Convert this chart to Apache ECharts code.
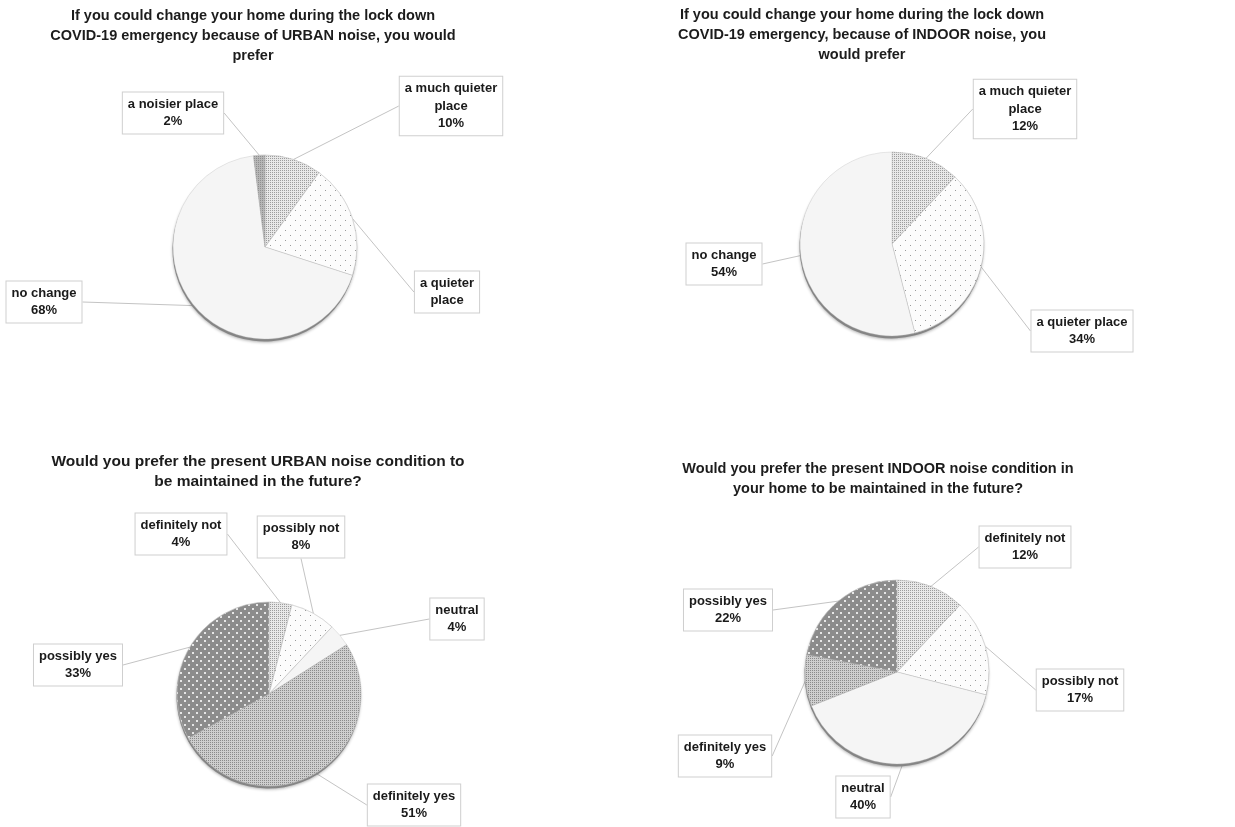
<!DOCTYPE html>
<html>
<head>
<meta charset="utf-8">
<title>Noise survey</title>
<script src="https://cdn.jsdelivr.net/npm/echarts@6/dist/echarts.min.js"></script>
<style>
  html, body { margin: 0; padding: 0; background: #ffffff; }
  #chart { width: 1235px; height: 827px; }
</style>
</head>
<body>
<div id="chart"></div>
<script>
// Survey answers (percent of respondents)
const urbanChangeNames = ['a much quieter place', 'a quieter place', 'no change', 'a noisier place'];
const urbanChangeLabels = ['a much quieter\nplace', 'a quieter\nplace', 'no change', 'a noisier place'];
const urbanChangeValues = [10, 20, 68, 2];

const indoorChangeNames = ['a much quieter place', 'a quieter place', 'no change'];
const indoorChangeLabels = ['a much quieter\nplace', 'a quieter place', 'no change'];
const indoorChangeValues = [12, 34, 54];

const keepNames = ['definitely not', 'possibly not', 'neutral', 'definitely yes', 'possibly yes'];
const urbanKeepValues = [4, 8, 4, 51, 33];
const indoorKeepValues = [12, 17, 40, 9, 22];

const panelTitles = [
  'If you could change your home during the lock down\nCOVID-19 emergency because of URBAN noise, you would\nprefer',
  'If you could change your home during the lock down\nCOVID-19 emergency, because of INDOOR noise, you\nwould prefer',
  'Would you prefer the present URBAN noise condition to\nbe maintained in the future?',
  'Would you prefer the present INDOOR noise condition in\nyour home to be maintained in the future?'
];

// ---- fill styles (grey tones with dot patterns) ----
const FONT = '"Liberation Sans", Arial, Helvetica, sans-serif';

const fills = {
  denseLight: {
    color: '#e8e8e8',
    decal: { symbol: 'rect', symbolSize: 1, color: '#9c9c9c', dashArrayX: [[1, 1]], dashArrayY: [1, 1], rotation: 0 }
  },
  sparse: {
    color: '#fcfcfc',
    decal: { symbol: 'rect', symbolSize: 1, color: '#9a9a9a', dashArrayX: [[1, 9], [0, 5, 1, 4]], dashArrayY: [1, 4], rotation: 0 }
  },
  plain: { color: '#f5f5f5' },
  denseMid: {
    color: '#cecece',
    decal: { symbol: 'rect', symbolSize: 1, color: '#8a8a8a', dashArrayX: [[1, 1]], dashArrayY: [1, 1], rotation: 0 }
  },
  darkDots: {
    color: '#8c8c8c',
    decal: { symbol: 'rect', symbolSize: 1, color: '#e6e6e6', dashArrayX: [[2, 6], [0, 4, 2, 2]], dashArrayY: [2, 2], rotation: 0 }
  },
  grey: {
    color: '#b6b6b6',
    decal: { symbol: 'rect', symbolSize: 1, color: '#8e8e8e', dashArrayX: [[1, 1]], dashArrayY: [1, 1], rotation: 0 }
  }
};

const changeFills = ['denseLight', 'sparse', 'plain', 'grey'];
const keepFills = ['denseLight', 'sparse', 'plain', 'denseMid', 'darkDots'];

// ---- panel layout: pie centre, radius, title anchor, label box centres ----
const panels = [
  {
    names: urbanChangeNames, labels: urbanChangeLabels, values: urbanChangeValues, fills: changeFills,
    hidePct: [1],
    center: [265, 247], radius: 92,
    title: [253, 6], titleSize: 14.5,
    labelPos: [[451, 106], [447, 292], [44, 302], [173, 113]]
  },
  {
    names: indoorChangeNames, labels: indoorChangeLabels, values: indoorChangeValues, fills: changeFills,
    hidePct: [],
    center: [892, 244], radius: 92,
    title: [862, 5], titleSize: 14.5,
    labelPos: [[1025, 109], [1082, 331], [724, 264]]
  },
  {
    names: keepNames, labels: keepNames, values: urbanKeepValues, fills: keepFills,
    hidePct: [],
    center: [269, 694], radius: 92,
    title: [258, 452], titleSize: 15.5,
    labelPos: [[181, 534], [301, 537], [457, 619], [414, 805], [78, 665]]
  },
  {
    names: keepNames, labels: keepNames, values: indoorKeepValues, fills: keepFills,
    hidePct: [],
    center: [897, 672], radius: 92,
    title: [878, 459], titleSize: 14.5,
    labelPos: [[1025, 547], [1080, 690], [863, 797], [725, 756], [728, 610]]
  }
];

const titleOpts = panels.map((p, i) => ({
  text: panelTitles[i],
  left: p.title[0],
  top: p.title[1],
  textAlign: 'center',
  padding: 0,
  textStyle: { fontFamily: FONT, fontSize: p.titleSize, fontWeight: 'bold', color: '#1c1c1c', lineHeight: 20 }
}));

const series = [];
panels.forEach((p) => {
  // darker rim under each pie
  series.push({
    type: 'pie',
    silent: true,
    center: [p.center[0] - 0.5, p.center[1] + 2.5],
    radius: p.radius,
    startAngle: 90,
    clockwise: true,
    animation: false,
    label: { show: false },
    labelLine: { show: false },
    itemStyle: { color: '#858585', shadowBlur: 3, shadowColor: 'rgba(0,0,0,0.3)', shadowOffsetY: 1 },
    data: p.values.map((v, i) => ({ value: v, name: p.names[i] }))
  });
  series.push({
    type: 'pie',
    center: p.center,
    radius: p.radius,
    startAngle: 90,
    clockwise: true,
    animation: false,
    avoidLabelOverlap: false,
    itemStyle: { borderColor: 'rgba(190,190,190,0.7)', borderWidth: 0.5 },
    label: {
      show: true,
      position: 'outside',
      formatter: (prm) => {
        const txt = p.labels[prm.dataIndex];
        return p.hidePct.includes(prm.dataIndex) ? txt : txt + '\n' + prm.value + '%';
      },
      fontFamily: FONT,
      fontSize: 13,
      fontWeight: 'bold',
      color: '#1a1a1a',
      lineHeight: 17.5,
      align: 'center',
      backgroundColor: '#ffffff',
      borderColor: '#cfcfcf',
      borderWidth: 1,
      padding: [3, 5, 3, 5]
    },
    labelLine: {
      show: true,
      length: 0,
      length2: 0,
      smooth: false,
      lineStyle: { color: '#c4c4c4', width: 1 }
    },
    labelLayout: (prm) => {
      const pos = p.labelPos[prm.dataIndex];
      return { x: pos[0], y: pos[1], align: 'center', verticalAlign: 'middle' };
    },
    emphasis: { disabled: true },
    data: p.values.map((v, i) => ({
      value: v,
      name: p.names[i],
      itemStyle: fills[p.fills[i]]
    }))
  });
});

const chart = echarts.init(document.getElementById('chart'), null, { renderer: 'canvas' });
chart.setOption({
  backgroundColor: '#ffffff',
  animation: false,
  title: titleOpts,
  series: series
});
</script>
</body>
</html>
